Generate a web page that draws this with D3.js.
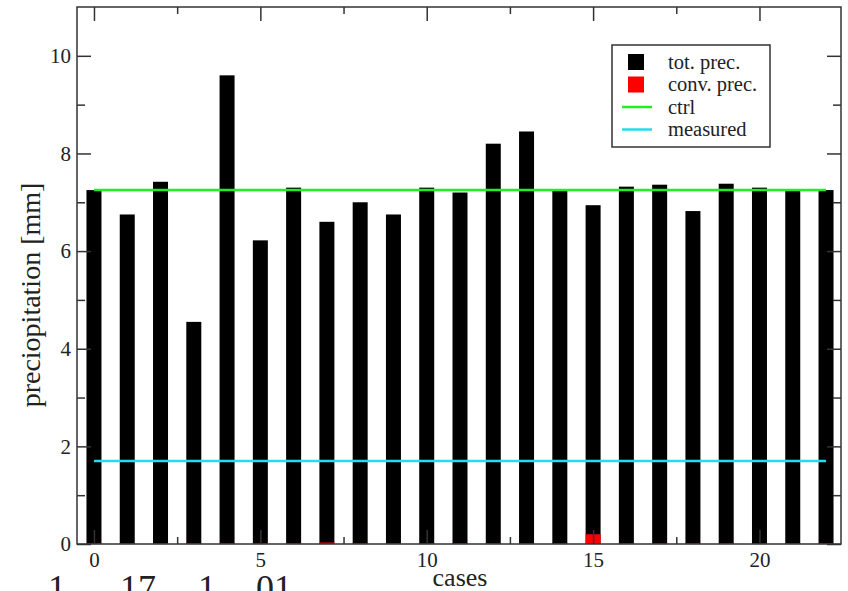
<!DOCTYPE html>
<html>
<head>
<meta charset="utf-8">
<script src="https://cdn.jsdelivr.net/npm/d3@7"></script>
<style>
  body { margin: 0; background: #fff; }
  text { font-family: "Liberation Serif", "Times New Roman", serif; fill: #222; }
</style>
</head>
<body>
<div id="chart"></div>
<script>
// data
var cases = d3.range(0, 23);
var totPrec = [7.25, 6.75, 7.42, 4.55, 9.6, 6.22, 7.3, 6.6, 7.0, 6.75, 7.3, 7.2,
               8.2, 8.45, 7.25, 6.94, 7.32, 7.36, 6.82, 7.38, 7.3, 7.25, 7.25];
var convPrec = [0.02, 0.02, 0.02, 0.02, 0.02, 0.02, 0.02, 0.03, 0.02, 0.02, 0.02, 0.02,
                0.02, 0.02, 0.02, 0.2, 0.02, 0.02, 0.02, 0.02, 0.02, 0.02, 0.02];
var ctrlValue = 7.25;
var measuredValue = 1.7;
var xMajor = [0, 5, 10, 15, 20];
var xMinor = [2.5, 7.5, 12.5, 17.5];
var yMajor = [0, 2, 4, 6, 8, 10];
var yMinor = [1, 3, 5, 7, 9];
var legendItems = [
  {label: "tot. prec.", type: "box", color: "#000"},
  {label: "conv. prec.", type: "box", color: "#ff0000"},
  {label: "ctrl", type: "line", color: "#22ee22"},
  {label: "measured", type: "line", color: "#22ddee"}
];
// caption under the figure, only its top shows
var captionParts = [{t: "1", x: 48}, {t: "17", x: 120}, {t: "1", x: 198}, {t: "01", x: 256}];

var svgWidth = 848;
var svgHeight = 591;

var margin = {
  top: 7,
  right: 7,
  bottom: 47,
  left: 77
};

var width = svgWidth - margin.left - margin.right;
var height = svgHeight - margin.top - margin.bottom;

var svg = d3.select("#chart")
  .append("svg")
  .attr("width", svgWidth)
  .attr("height", svgHeight);

var chartGroup = svg.append("g")
  .attr("transform", `translate(${margin.left}, ${margin.top})`);

// scales
var xScale = d3.scaleLinear()
  .domain([-0.51, 22.45])
  .range([0, width]);

var yScale = d3.scaleLinear()
  .domain([0, 11])
  .range([height, 0]);

var barWidth = 15;

// bars
chartGroup.selectAll(".tot")
  .data(cases)
  .enter()
  .append("rect")
  .attr("class", "tot")
  .attr("x", d => xScale(d) - barWidth / 2)
  .attr("y", d => yScale(totPrec[d]))
  .attr("width", barWidth)
  .attr("height", d => height - yScale(totPrec[d]))
  .attr("fill", "#000");

chartGroup.selectAll(".conv")
  .data(cases)
  .enter()
  .append("rect")
  .attr("class", "conv")
  .attr("x", d => xScale(d) - barWidth / 2)
  .attr("y", d => yScale(convPrec[d]))
  .attr("width", barWidth)
  .attr("height", d => height - yScale(convPrec[d]))
  .attr("fill", "#ff0000");

// horizontal reference lines
chartGroup.append("line")
  .attr("x1", xScale(0))
  .attr("x2", xScale(22))
  .attr("y1", yScale(ctrlValue))
  .attr("y2", yScale(ctrlValue))
  .attr("stroke", "#22ee22")
  .attr("stroke-width", 2.5);

chartGroup.append("line")
  .attr("x1", xScale(0))
  .attr("x2", xScale(22))
  .attr("y1", yScale(measuredValue))
  .attr("y2", yScale(measuredValue))
  .attr("stroke", "#22ddee")
  .attr("stroke-width", 2.5);

// axes: ticks drawn inward, labels on left and bottom only
var tickColor = "#333";

function addAxis(axis, transform, showLabels) {
  var g = chartGroup.append("g")
    .attr("transform", transform)
    .call(axis);
  g.select(".domain").remove();
  g.selectAll("line").attr("stroke", tickColor).attr("stroke-width", 1.5);
  if (!showLabels) g.selectAll("text").remove();
  return g;
}

var bottomMajor = d3.axisBottom(xScale).tickValues(xMajor).tickSize(-14).tickPadding(8).tickFormat(d3.format("d"));
var bottomMinor = d3.axisBottom(xScale).tickValues(xMinor).tickSize(-7).tickFormat("");
var topMajor = d3.axisTop(xScale).tickValues(xMajor).tickSize(-14).tickFormat("");
var topMinor = d3.axisTop(xScale).tickValues(xMinor).tickSize(-7).tickFormat("");
var leftMajor = d3.axisLeft(yScale).tickValues(yMajor).tickSize(-14).tickPadding(6).tickFormat(d3.format("d"));
var leftMinor = d3.axisLeft(yScale).tickValues(yMinor).tickSize(-8).tickFormat("");
var rightMajor = d3.axisRight(yScale).tickValues(yMajor).tickSize(-14).tickFormat("");
var rightMinor = d3.axisRight(yScale).tickValues(yMinor).tickSize(-8).tickFormat("");

var bx = addAxis(bottomMajor, `translate(0, ${height})`, true);
addAxis(bottomMinor, `translate(0, ${height})`, false);
addAxis(topMajor, "translate(0, 0)", false);
addAxis(topMinor, "translate(0, 0)", false);
var ly = addAxis(leftMajor, "translate(0, 0)", true);
addAxis(leftMinor, "translate(0, 0)", false);
addAxis(rightMajor, `translate(${width}, 0)`, false);
addAxis(rightMinor, `translate(${width}, 0)`, false);

bx.selectAll("text")
  .attr("font-size", "21px")
  .attr("fill", "#222")
  .attr("font-family", "Liberation Serif, serif");
ly.selectAll("text")
  .attr("font-size", "21px")
  .attr("fill", "#222")
  .attr("font-family", "Liberation Serif, serif");

// frame
chartGroup.append("rect")
  .attr("x", 0)
  .attr("y", 0)
  .attr("width", width)
  .attr("height", height)
  .attr("fill", "none")
  .attr("stroke", tickColor)
  .attr("stroke-width", 1.5);

// axis labels
chartGroup.append("text")
  .attr("transform", "rotate(-90)")
  .attr("x", -(295 - margin.top))
  .attr("y", 40 - margin.left)
  .attr("text-anchor", "middle")
  .attr("font-size", "28px")
  .text("preciopitation [mm]");

chartGroup.append("text")
  .attr("x", xScale(11))
  .attr("y", height + 42)
  .attr("text-anchor", "middle")
  .attr("font-size", "26px")
  .text("cases");

// legend
var legend = chartGroup.append("g")
  .attr("transform", `translate(${612 - margin.left}, ${45 - margin.top})`);

legend.append("rect")
  .attr("width", 158)
  .attr("height", 102)
  .attr("fill", "#fff")
  .attr("stroke", tickColor)
  .attr("stroke-width", 1.5);

var rows = legend.selectAll(".item")
  .data(legendItems)
  .enter()
  .append("g")
  .attr("transform", (d, i) => `translate(0, ${17 + i * 22.5})`);

rows.filter(d => d.type === "box")
  .append("rect")
  .attr("x", 16)
  .attr("y", -8)
  .attr("width", 16)
  .attr("height", 16)
  .attr("fill", d => d.color);

rows.filter(d => d.type === "line")
  .append("line")
  .attr("x1", 10)
  .attr("x2", 40)
  .attr("stroke", d => d.color)
  .attr("stroke-width", 2.5);

rows.append("text")
  .attr("x", 56)
  .attr("dy", "0.33em")
  .attr("font-size", "20.5px")
  .text(d => d.label);

svg.selectAll(".caption")
  .data(captionParts)
  .enter()
  .append("text")
  .attr("class", "caption")
  .attr("x", d => d.x)
  .attr("y", 600)
  .attr("font-size", "36px")
  .attr("fill", "#000")
  .text(d => d.t);
</script>
</body>
</html>
